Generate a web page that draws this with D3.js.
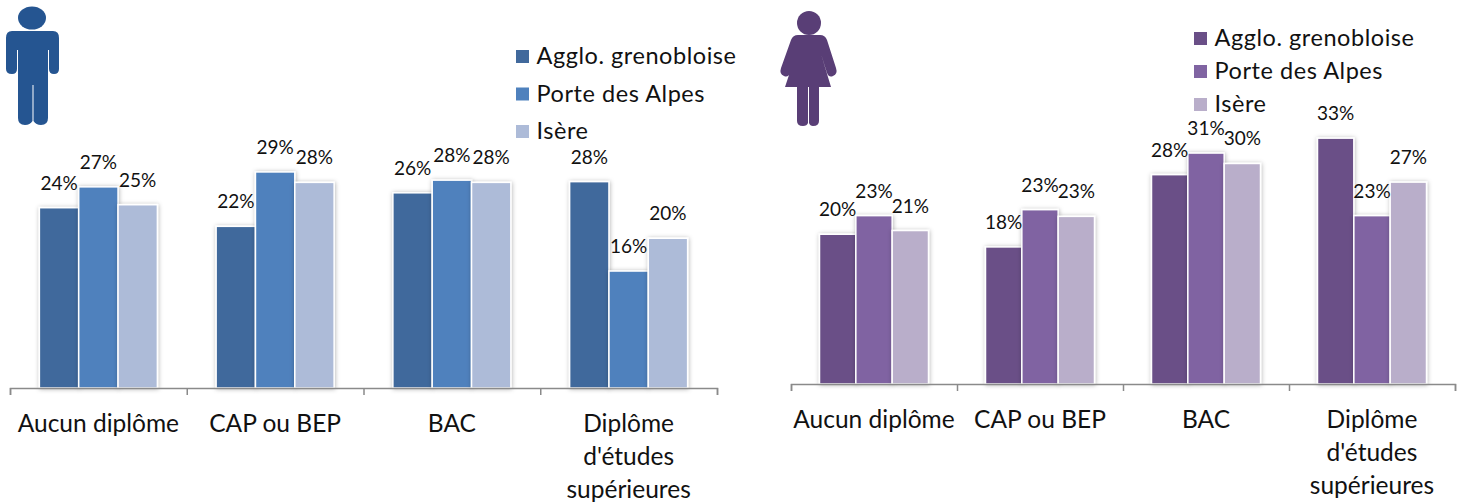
<!DOCTYPE html>
<html>
<head>
<meta charset="utf-8">
<script src="https://cdn.jsdelivr.net/npm/d3@7"></script>
<style>
  html, body { margin:0; padding:0; background:#fff; }
  text { font-family:Lato, "Open Sans", sans-serif; fill:#111; }
</style>
</head>
<body>
<svg id="chart" width="1465" height="502"></svg>
<script>
var categories = [["Aucun diplôme"], ["CAP ou BEP"], ["BAC"], ["Diplôme", "d'études", "supérieures"]];
var seriesNames = ["Agglo. grenobloise", "Porte des Alpes", "Isère"];

var hommesAgglo = [0.242, 0.217, 0.262, 0.277];
var hommesPorte = [0.270, 0.290, 0.279, 0.157];
var hommesIsere = [0.246, 0.276, 0.276, 0.201];

var femmesAgglo = [0.201, 0.184, 0.281, 0.330];
var femmesPorte = [0.226, 0.234, 0.310, 0.226];
var femmesIsere = [0.206, 0.225, 0.296, 0.271];

var svg = d3.select("#chart");

var defs = svg.append("defs");
var shadow = defs.append("filter").attr("id", "shadow")
    .attr("x", "-20%").attr("y", "-5%").attr("width", "140%").attr("height", "110%");
shadow.append("feDropShadow")
    .attr("dx", 0.5).attr("dy", 0.5).attr("stdDeviation", 2)
    .attr("flood-color", "#000").attr("flood-opacity", 0.3);

var drawPanel = function(p)
{
    var xGroup = d3.scaleBand().domain(d3.range(categories.length)).range([p.left, p.right]);
    var inset = (xGroup.bandwidth() - p.barsWidth) / 2;
    var xBar = d3.scaleBand().domain(d3.range(seriesNames.length)).range([inset, inset + p.barsWidth]);
    var y = d3.scaleLinear().domain([0, 0.35]).range([p.base, p.base - 0.35 * 745]);

    var g = svg.append("g");

    p.values.forEach(function(vals, s)
    {
        g.selectAll(".bar" + s)
            .data(vals)
            .enter()
            .append("rect")
            .attr("x", function(d, i) { return xGroup(i) + xBar(s); })
            .attr("y", function(d) { return y(d); })
            .attr("width", xBar.bandwidth())
            .attr("height", function(d) { return p.base - y(d); })
            .attr("fill", p.colors[s])
            .attr("stroke", "#fff")
            .attr("stroke-width", 1.5)
            .attr("filter", "url(#shadow)");
    });

    // axis with ticks between groups
    var axis = d3.axisBottom(d3.scaleLinear().domain([0, 4]).range([p.left, p.right]))
        .ticks(4).tickSize(7).tickFormat("");
    var axisG = g.append("g").attr("transform", "translate(0," + p.base + ")").call(axis);
    axisG.selectAll("path, line").attr("stroke", "#8a8a8a").attr("stroke-width", 1.5);

    p.values.forEach(function(vals, s)
    {
        g.selectAll(".lab" + s)
            .data(vals)
            .enter()
            .append("text")
            .attr("x", function(d, i) { return xGroup(i) + xBar(s) + xBar.bandwidth() / 2; })
            .attr("y", function(d) { return y(d) - 18; })
            .attr("text-anchor", "middle")
            .style("font-size", "19px")
            .text(d3.format(".0%"));
    });

    categories.forEach(function(lines, i)
    {
        var t = g.append("text")
            .attr("text-anchor", "middle")
            .style("font-size", "24.5px");
        lines.forEach(function(line, k)
        {
            t.append("tspan")
                .attr("x", xGroup(i) + xGroup.bandwidth() / 2)
                .attr("y", p.base + 44 + k * 33)
                .text(line);
        });
    });

    seriesNames.forEach(function(name, s)
    {
        var ly = p.legendY + s * p.legendStep;
        g.append("rect")
            .attr("x", p.legendX).attr("y", ly - 6)
            .attr("width", 13).attr("height", 13)
            .attr("fill", p.colors[s]);
        g.append("text")
            .attr("x", p.legendX + 20.5).attr("y", ly + 8)
            .style("font-size", "23.5px")
            .style("letter-spacing", "0.55px")
            .text(name);
    });
};

drawPanel({
    left:10, right:717, base:388, barsWidth:118,
    values:[hommesAgglo, hommesPorte, hommesIsere],
    colors:["#41699c", "#4f81bd", "#adbbd8"],
    legendX:516, legendY:56, legendStep:37.5
});

drawPanel({
    left:791, right:1455, base:384, barsWidth:109,
    values:[femmesAgglo, femmesPorte, femmesIsere],
    colors:["#6a4f87", "#8064a2", "#b9aeca"],
    legendX:1194, legendY:38, legendStep:33
});

// pictogrammes
svg.append("ellipse").attr("cx", 32).attr("cy", 18).attr("rx", 14).attr("ry", 11.5).attr("fill", "#255591");
svg.append("path").attr("fill", "#255591")
    .attr("d", "M12 31H53Q59 31 59 38V69Q59 74 54 74Q49 74 49 69V50H48V118Q48 125 41 125Q36 125 33.5 121V85H32.5V121Q30 125 25 125Q18 125 18 118V50H17V69Q17 74 12 74Q6 74 6 69V38Q6 31 12 31Z");

svg.append("circle").attr("cx", 809).attr("cy", 23).attr("r", 12).attr("fill", "#593e76");
svg.append("path").attr("fill", "#593e76")
    .attr("d", "M798 35H820Q825 35 827 40L836 68Q838 74 833 76Q829 78 827 73L821 54L831 87H819V121Q819 126 813 126Q810 126 809 123V87H808V123Q807 126 803 126Q797 126 797 121V87H785L796 54L790 73Q788 78 784 76Q779 74 781 68L791 40Q793 35 798 35Z");
</script>
</body>
</html>
